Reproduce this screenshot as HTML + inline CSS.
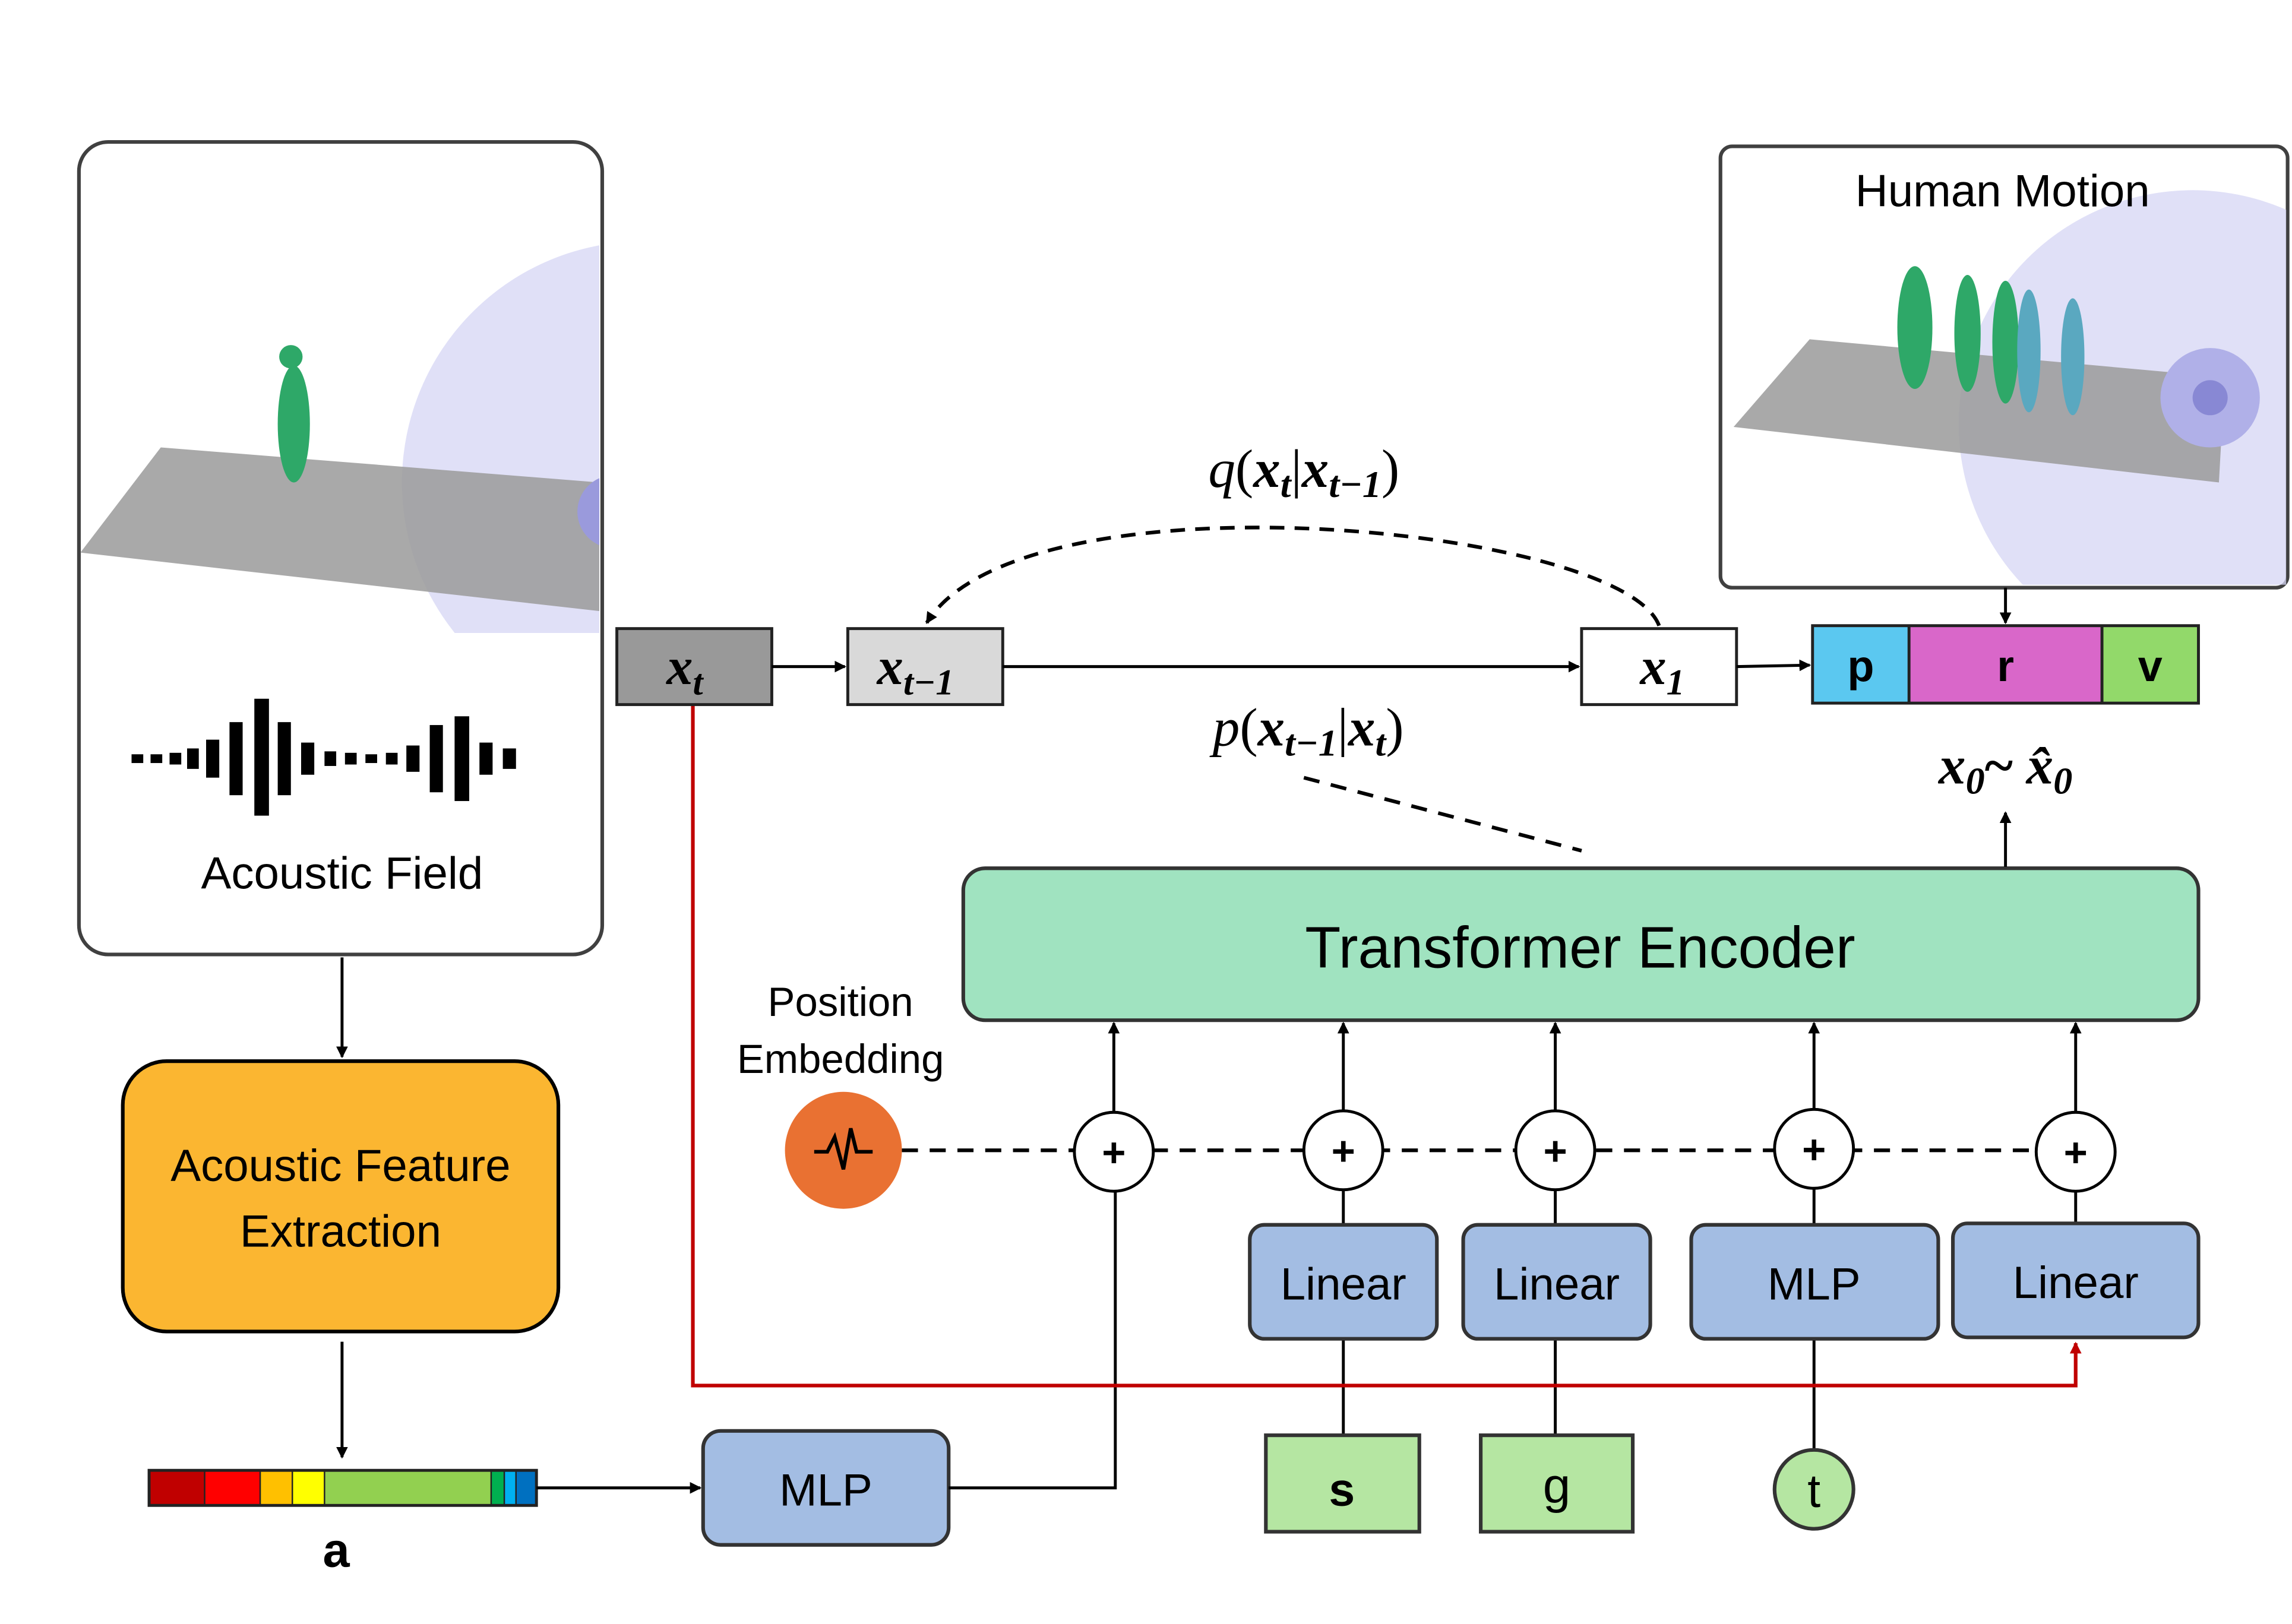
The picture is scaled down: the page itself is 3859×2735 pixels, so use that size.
<!DOCTYPE html>
<html><head><meta charset="utf-8"><style>html,body{margin:0;padding:0;background:#fff}svg{display:block}</style></head>
<body>
<svg width="3859" height="2735" viewBox="0 0 1568 1111" xmlns="http://www.w3.org/2000/svg" font-family="Liberation Sans, sans-serif">
<defs>
<marker id="ah" markerWidth="8" markerHeight="8" refX="7" refY="4" orient="auto" markerUnits="userSpaceOnUse"><path d="M0,0 L8,4 L0,8 z" fill="#000"/></marker>
<marker id="ahr" markerWidth="8" markerHeight="8" refX="7" refY="4" orient="auto" markerUnits="userSpaceOnUse"><path d="M0,0 L8,4 L0,8 z" fill="#C00000"/></marker>
<clipPath id="c1"><rect x="55" y="98" width="355" height="335"/></clipPath>
<clipPath id="c2"><rect x="1179" y="102" width="385" height="298"/></clipPath>
</defs>
<rect width="1568" height="1111" fill="#fff"/>

<rect x="54" y="97" width="358" height="556" rx="20" fill="#fff" stroke="#404040" stroke-width="2.5"/>
<g clip-path="url(#c1)">
<circle cx="440" cy="330" r="165" fill="#d6d6f4" opacity="0.75"/>
<polygon points="55,378 110,306 410,330 410,418" fill="#9a9a9a" opacity="0.85"/>
<circle cx="420" cy="350" r="25" fill="#9a9adc"/>
<ellipse cx="201" cy="290" rx="11" ry="40" fill="#2ea868"/>
<circle cx="199" cy="244" r="8" fill="#2ea868"/>
</g>
<g fill="#000">
<rect x="90" y="516" width="8" height="6"/><rect x="103" y="516" width="8" height="6"/><rect x="116" y="515" width="8" height="8"/>
<rect x="128" y="512" width="8" height="14"/><rect x="141" y="506" width="9" height="26"/><rect x="157" y="494" width="9" height="50"/>
<rect x="174" y="478" width="10" height="80"/><rect x="190" y="494" width="9" height="50"/><rect x="206" y="508" width="9" height="22"/>
<rect x="222" y="514" width="8" height="10"/><rect x="236" y="515" width="8" height="8"/><rect x="250" y="516" width="8" height="6"/><rect x="264" y="515" width="8" height="8"/>
<rect x="278" y="510" width="9" height="18"/><rect x="294" y="496" width="9" height="46"/><rect x="311" y="490" width="10" height="58"/>
<rect x="328" y="508" width="9" height="22"/><rect x="344" y="512" width="9" height="14"/>
</g>
<text x="234" y="608" font-size="31" text-anchor="middle">Acoustic Field</text>
<line x1="234" y1="655" x2="234" y2="723" stroke="#000" stroke-width="2" marker-end="url(#ah)"/>

<rect x="84" y="726" width="298" height="185" rx="30" fill="#FBB631" stroke="#000" stroke-width="2.5"/>
<text x="233" y="808" font-size="31" text-anchor="middle">Acoustic Feature</text>
<text x="233" y="853" font-size="31" text-anchor="middle">Extraction</text>
<line x1="234" y1="918" x2="234" y2="997" stroke="#000" stroke-width="2" marker-end="url(#ah)"/>

<rect x="102" y="1006" width="38" height="24" fill="#C00000"/>
<rect x="140" y="1006" width="38" height="24" fill="#FF0000"/>
<rect x="178" y="1006" width="22" height="24" fill="#FFC000"/>
<rect x="200" y="1006" width="22" height="24" fill="#FFFF00"/>
<rect x="222" y="1006" width="114" height="24" fill="#92D050"/>
<rect x="336" y="1006" width="9" height="24" fill="#00B050"/>
<rect x="345" y="1006" width="8" height="24" fill="#00B0F0"/>
<rect x="353" y="1006" width="14" height="24" fill="#0070C0"/>
<rect x="102" y="1006" width="265" height="24" fill="none" stroke="#222" stroke-width="2"/>
<g stroke="#222" stroke-width="1"><line x1="140" y1="1006" x2="140" y2="1030"/><line x1="178" y1="1006" x2="178" y2="1030"/><line x1="200" y1="1006" x2="200" y2="1030"/><line x1="222" y1="1006" x2="222" y2="1030"/><line x1="336" y1="1006" x2="336" y2="1030"/><line x1="345" y1="1006" x2="345" y2="1030"/><line x1="353" y1="1006" x2="353" y2="1030"/></g>
<text x="230" y="1072" font-size="33" font-weight="bold" text-anchor="middle">a</text>
<line x1="367" y1="1018" x2="479" y2="1018" stroke="#000" stroke-width="2" marker-end="url(#ah)"/>

<rect x="481" y="979" width="168" height="78" rx="12" fill="#A3BDE3" stroke="#333" stroke-width="2.5"/>
<text x="565" y="1030" font-size="31" text-anchor="middle">MLP</text>
<polyline points="649,1018 763,1018 763,815" fill="none" stroke="#000" stroke-width="2"/>

<text x="575" y="695" font-size="28" text-anchor="middle">Position</text>
<text x="575" y="734" font-size="28" text-anchor="middle">Embedding</text>
<line x1="617" y1="787" x2="1400" y2="787" stroke="#000" stroke-width="2.5" stroke-dasharray="11,8"/>
<circle cx="577" cy="787" r="40" fill="#E97132"/>
<polyline points="557,788 566,788 571,778 577,800 582,772 586,788 597,788" fill="none" stroke="#000" stroke-width="2.5"/>

<g stroke="#000" stroke-width="2" fill="#fff">
<circle cx="762" cy="788" r="27"/><circle cx="919" cy="787" r="27"/><circle cx="1064" cy="787" r="27"/><circle cx="1241" cy="786" r="27"/><circle cx="1420" cy="788" r="27"/>
</g>
<g font-size="28" text-anchor="middle" font-weight="bold">
<text x="762" y="798">+</text><text x="919" y="797">+</text><text x="1064" y="797">+</text><text x="1241" y="796">+</text><text x="1420" y="798">+</text>
</g>
<g stroke="#000" stroke-width="2" marker-end="url(#ah)">
<line x1="762" y1="761" x2="762" y2="700"/><line x1="919" y1="760" x2="919" y2="700"/><line x1="1064" y1="760" x2="1064" y2="700"/><line x1="1241" y1="759" x2="1241" y2="700"/><line x1="1420" y1="761" x2="1420" y2="700"/>
</g>
<g stroke="#000" stroke-width="2">
<line x1="919" y1="814" x2="919" y2="838"/><line x1="1064" y1="814" x2="1064" y2="838"/><line x1="1241" y1="813" x2="1241" y2="838"/><line x1="1420" y1="815" x2="1420" y2="837"/>
<line x1="919" y1="916" x2="919" y2="982"/><line x1="1064" y1="916" x2="1064" y2="982"/><line x1="1241" y1="916" x2="1241" y2="992"/>
</g>

<rect x="659" y="594" width="845" height="104" rx="15" fill="#A0E3C0" stroke="#333" stroke-width="2.5"/>
<text x="1081" y="662" font-size="40" text-anchor="middle">Transformer Encoder</text>

<g fill="#A3BDE3" stroke="#333" stroke-width="2.5">
<rect x="855" y="838" width="128" height="78" rx="10"/><rect x="1001" y="838" width="128" height="78" rx="10"/>
<rect x="1157" y="838" width="169" height="78" rx="10"/><rect x="1336" y="837" width="168" height="78" rx="10"/>
</g>
<g font-size="31" text-anchor="middle">
<text x="919" y="889">Linear</text><text x="1065" y="889">Linear</text><text x="1241" y="889">MLP</text><text x="1420" y="888">Linear</text>
</g>

<rect x="866" y="982" width="105" height="66" fill="#B5E6A2" stroke="#333" stroke-width="2.5"/>
<rect x="1013" y="982" width="104" height="66" fill="#B5E6A2" stroke="#333" stroke-width="2.5"/>
<circle cx="1241" cy="1019" r="27" fill="#B5E6A2" stroke="#333" stroke-width="2.5"/>
<text x="918" y="1030" font-size="32" font-weight="bold" text-anchor="middle">s</text>
<text x="1065" y="1028" font-size="34" text-anchor="middle">g</text>
<text x="1241" y="1031" font-size="32" text-anchor="middle">t</text>

<polyline points="474,482 474,948 1420,948 1420,919" fill="none" stroke="#C00000" stroke-width="2.5" marker-end="url(#ahr)"/>

<rect x="422" y="430" width="106" height="52" fill="#999" stroke="#222" stroke-width="2"/>
<rect x="580" y="430" width="106" height="52" fill="#D9D9D9" stroke="#222" stroke-width="2"/>
<rect x="1082" y="430" width="106" height="52" fill="#fff" stroke="#222" stroke-width="2"/>
<g font-family="Liberation Serif, serif" font-style="italic" font-weight="bold" font-size="36">
<text x="456" y="468">x<tspan font-size="25" dy="7">t</tspan></text>
<text x="600" y="468">x<tspan font-size="25" dy="7">t−1</tspan></text>
<text x="1122" y="468">x<tspan font-size="25" dy="7">1</tspan></text>
</g>
<line x1="528" y1="456" x2="578" y2="456" stroke="#000" stroke-width="2" marker-end="url(#ah)"/>
<line x1="686" y1="456" x2="1080" y2="456" stroke="#000" stroke-width="2" marker-end="url(#ah)"/>
<line x1="1188" y1="456" x2="1238" y2="455" stroke="#000" stroke-width="2" marker-end="url(#ah)"/>
<path d="M1135,428 C1110,360 700,320 634,426" fill="none" stroke="#000" stroke-width="2.5" stroke-dasharray="10,7" marker-end="url(#ah)"/>
<g font-family="Liberation Serif, serif" font-size="37">
<text x="892" y="333" text-anchor="middle"><tspan font-style="italic">q</tspan>(<tspan font-style="italic" font-weight="bold">x<tspan font-size="26" dy="7">t</tspan></tspan><tspan dy="-7">|</tspan><tspan font-style="italic" font-weight="bold">x<tspan font-size="26" dy="7">t−1</tspan></tspan><tspan dy="-7">)</tspan></text>
<text x="895" y="510" text-anchor="middle"><tspan font-style="italic">p</tspan>(<tspan font-style="italic" font-weight="bold">x<tspan font-size="26" dy="7">t−1</tspan></tspan><tspan dy="-7">|</tspan><tspan font-style="italic" font-weight="bold">x<tspan font-size="26" dy="7">t</tspan></tspan><tspan dy="-7">)</tspan></text>
<text x="1372" y="536" text-anchor="middle" font-weight="bold" font-style="italic">x<tspan font-size="26" dy="7">0</tspan><tspan dy="-7" font-style="normal">~ </tspan>x̂<tspan font-size="26" dy="7">0</tspan></text>
</g>
<line x1="892" y1="532" x2="1082" y2="582" stroke="#000" stroke-width="2.5" stroke-dasharray="11,8"/>
<line x1="1372" y1="593" x2="1372" y2="556" stroke="#000" stroke-width="2" marker-end="url(#ah)"/>

<rect x="1240" y="428" width="66" height="53" fill="#5BC8F0"/>
<rect x="1306" y="428" width="132" height="53" fill="#D967C9"/>
<rect x="1438" y="428" width="66" height="53" fill="#92D96A"/>
<rect x="1240" y="428" width="264" height="53" fill="none" stroke="#222" stroke-width="2"/>
<line x1="1306" y1="428" x2="1306" y2="481" stroke="#222" stroke-width="2"/><line x1="1438" y1="428" x2="1438" y2="481" stroke="#222" stroke-width="2"/>
<g font-size="30" font-weight="bold" text-anchor="middle"><text x="1273" y="466">p</text><text x="1372" y="466">r</text><text x="1471" y="466">v</text></g>

<rect x="1177" y="100" width="388" height="302" rx="8" fill="#fff" stroke="#404040" stroke-width="2.5"/>
<g clip-path="url(#c2)">
<circle cx="1500" cy="290" r="160" fill="#d6d6f4" opacity="0.75"/>
<polygon points="1186,292 1238,232 1522,258 1518,330" fill="#9a9a9a" opacity="0.85"/>
<circle cx="1512" cy="272" r="34" fill="#b0b0e8"/><circle cx="1512" cy="272" r="12" fill="#8888d4"/>
<ellipse cx="1310" cy="224" rx="12" ry="42" fill="#2ea868"/><ellipse cx="1346" cy="228" rx="9" ry="40" fill="#2ea868"/>
<ellipse cx="1372" cy="234" rx="9" ry="42" fill="#2ea868"/><ellipse cx="1388" cy="240" rx="8" ry="42" fill="#5aa8c0"/><ellipse cx="1418" cy="244" rx="8" ry="40" fill="#5aa8c0"/>
</g>
<text x="1370" y="141" font-size="31" text-anchor="middle">Human Motion</text>
<line x1="1372" y1="402" x2="1372" y2="426" stroke="#000" stroke-width="2" marker-end="url(#ah)"/>
</svg>
</body></html>
